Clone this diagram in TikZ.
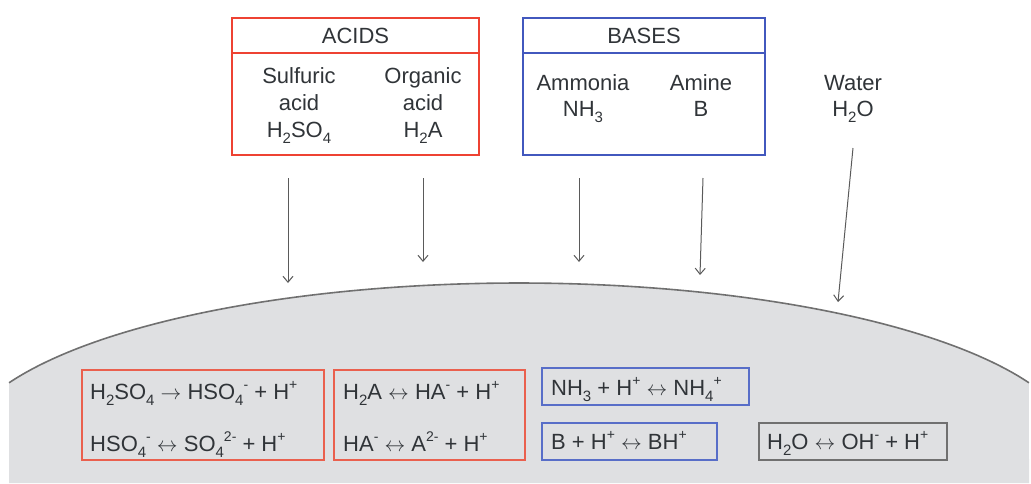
\documentclass[tikz,border=0pt]{standalone}
\usepackage{fontspec}
\setmainfont{Liberation Sans}
\usetikzlibrary{arrows.meta}
\definecolor{acidred}{RGB}{238,66,50}
\definecolor{lightred}{RGB}{234,96,78}
\definecolor{basblue}{RGB}{66,88,190}
\definecolor{lightblue}{RGB}{88,110,200}
\definecolor{txt}{RGB}{48,52,56}
\definecolor{surf}{RGB}{223,224,226}
\definecolor{edgegray}{RGB}{112,112,112}
\definecolor{arrgray}{RGB}{90,90,90}
\newcommand\chsub[1]{\raisebox{-0.3em}{\fontsize{15}{15}\selectfont #1}}
\newcommand\chsup[1]{\raisebox{0.45em}{\fontsize{14}{14}\selectfont #1}}
\newcommand\rto{ $\rightarrow$ }
\newcommand\req{ $\leftrightarrow$ }
\begin{document}
\begin{tikzpicture}[x=1pt,y=-1pt,
  lbl/.style={text=txt,font=\fontsize{22}{27}\selectfont,inner sep=0pt},
  ctr/.style={lbl,anchor=base},
  lft/.style={lbl,anchor=base west},
  topacid/.style={draw=acidred,line width=2.6pt},
  topbase/.style={draw=basblue,line width=2.6pt},
  redbox/.style={draw=lightred,line width=1.8pt},
  bluebox/.style={draw=lightblue,line width=1.8pt},
  graybox/.style={draw=edgegray,line width=1.4pt},
  arr/.style={draw=arrgray,line width=1pt,-{Straight Barb[length=6pt,width=10pt]}}]
\useasboundingbox (0,0) rectangle (1031,483);
% surface
\fill[surf] (9,483) -- plot[domain=155.6:24.4,samples=100] ({519+560*cos(\x)},{453-170*sin(\x)}) -- (1029,483) -- cycle;
\draw[edgegray,line width=1.6pt] plot[domain=155.6:24.4,samples=100] ({519+560*cos(\x)},{453-170*sin(\x)});
% top boxes
\draw[topacid] (232,18) rectangle (479,155);
\draw[topacid] (232,53) -- (479,53);
\draw[topbase] (523,18) rectangle (765,155);
\draw[topbase] (523,53) -- (765,53);
\node[ctr] (acids) at (355.5,43) {ACIDS};
\node[ctr] (bases) at (644,43) {BASES};
\node[ctr] (s1) at (299,83) {Sulfuric};
\node[ctr] (s2) at (299,110) {acid};
\node[ctr] (s3) at (299,137) {H\chsub{2}SO\chsub{4}};
\node[ctr] (o1) at (423,83) {Organic};
\node[ctr] (o2) at (423,110) {acid};
\node[ctr] (o3) at (423,137) {H\chsub{2}A};
\node[ctr] (n1) at (583,90) {Ammonia};
\node[ctr] (n2) at (583,116) {NH\chsub{3}};
\node[ctr] (m1) at (701,90) {Amine};
\node[ctr] (m2) at (701,116) {B};
\node[ctr] (w1) at (853,90) {Water};
\node[ctr] (w2) at (853,116) {H\chsub{2}O};
% arrows
\coordinate (a1s) at (288,178); \coordinate (a1e) at (288,283);
\coordinate (a2s) at (423,178); \coordinate (a2e) at (423,262);
\coordinate (a3s) at (579,178); \coordinate (a3e) at (579,262);
\coordinate (a4s) at (703,178); \coordinate (a4e) at (700,275);
\coordinate (a5s) at (853,148); \coordinate (a5e) at (838,302);
\draw[arr] (a1s) -- (a1e);
\draw[arr] (a2s) -- (a2e);
\draw[arr] (a3s) -- (a3e);
\draw[arr] (a4s) -- (a4e);
\draw[arr] (a5s) -- (a5e);
% reaction boxes
\draw[redbox] (82,370) rectangle (324,460);
\draw[redbox] (334,370) rectangle (525,460);
\draw[bluebox] (542,368) rectangle (749,405);
\draw[bluebox] (542,423) rectangle (717,460);
\draw[graybox] (759,423) rectangle (947,460);
\node[lft] (r1) at (90,399) {H\chsub{2}SO\chsub{4}\rto HSO\chsub{4}\chsup{-} + H\chsup{+}};
\node[lft] (r2) at (90,451) {HSO\chsub{4}\chsup{-}\req SO\chsub{4}\chsup{2-} + H\chsup{+}};
\node[lft] (r3) at (343,399) {H\chsub{2}A\req HA\chsup{-} + H\chsup{+}};
\node[lft] (r4) at (343,451) {HA\chsup{-}\req A\chsup{2-} + H\chsup{+}};
\node[lft] (r5) at (551,395) {NH\chsub{3} + H\chsup{+}\req NH\chsub{4}\chsup{+}};
\node[lft] (r6) at (551,449) {B + H\chsup{+}\req BH\chsup{+}};
\node[lft] (r7) at (767,449) {H\chsub{2}O\req OH\chsup{-} + H\chsup{+}};
\end{tikzpicture}
\end{document}
